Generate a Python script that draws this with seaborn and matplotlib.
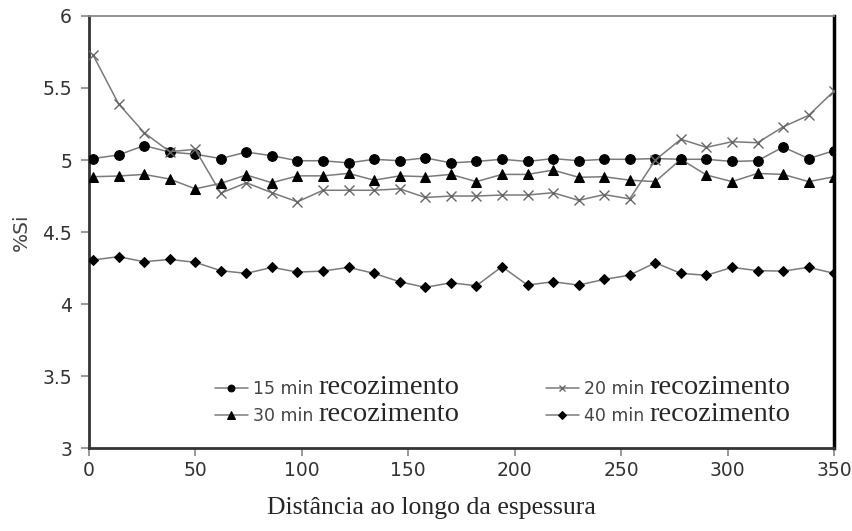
import pandas as pd
import matplotlib
matplotlib.use("Agg")
import matplotlib.pyplot as plt
import seaborn as sns

# Distance positions (measurement points)
distancia = [2, 14, 26, 38, 50, 62, 74, 86, 98, 110, 122, 134, 146, 158, 170,
             182, 194, 206, 218, 230, 242, 254, 266, 278, 290, 302, 314, 326, 338, 350]

# %Si for each annealing time
si_15 = [5.01, 5.035, 5.10, 5.055, 5.04, 5.01, 5.055, 5.03, 4.995, 4.995,
         4.98, 5.005, 4.995, 5.015, 4.98, 4.99, 5.005, 4.99, 5.01, 4.995,
         5.005, 5.005, 5.01, 5.005, 5.005, 4.99, 4.995, 5.09, 5.01, 5.065]
si_20 = [5.73, 5.39, 5.19, 5.058, 5.074, 4.77, 4.842, 4.773, 4.71, 4.79,
         4.79, 4.79, 4.80, 4.74, 4.75, 4.75, 4.757, 4.757, 4.773, 4.72,
         4.76, 4.73, 5.0, 5.144, 5.088, 5.127, 5.12, 5.23, 5.31, 5.48]
si_30 = [4.884, 4.889, 4.90, 4.868, 4.80, 4.838, 4.896, 4.842, 4.89, 4.89,
         4.907, 4.86, 4.89, 4.884, 4.90, 4.85, 4.90, 4.90, 4.93, 4.88,
         4.884, 4.86, 4.85, 5.005, 4.896, 4.85, 4.907, 4.90, 4.85, 4.884]
si_40 = [4.306, 4.329, 4.294, 4.31, 4.29, 4.232, 4.213, 4.255, 4.222, 4.229,
         4.255, 4.213, 4.155, 4.116, 4.148, 4.127, 4.26, 4.132, 4.155, 4.132,
         4.171, 4.201, 4.287, 4.213, 4.20, 4.255, 4.232, 4.229, 4.255, 4.213]

labels = ["15 min", "20 min", "30 min", "40 min"]
x_ticks = [0, 50, 100, 150, 200, 250, 300, 350]
y_ticks = [3, 3.5, 4, 4.5, 5, 5.5, 6]
y_tick_labels = ["3", "3.5", "4", "4.5", "5", "5.5", "6"]

sns.set_style("ticks")
plt.rcParams["font.family"] = ["DejaVu Sans"]
serif = ["Liberation Serif", "DejaVu Serif"]

fig = plt.figure(figsize=(8.53, 5.31), dpi=100)
ax = fig.add_axes([0.104, 0.156, 0.874, 0.814])

line_gray = "#7a7a7a"
styles = {
    "15 min": dict(marker="o", markersize=7, markerfacecolor="black", markeredgecolor="black"),
    "20 min": dict(marker="x", markersize=7, markeredgecolor="#666666", markeredgewidth=1.0),
    "30 min": dict(marker="^", markersize=7.5, markerfacecolor="black", markeredgecolor="black"),
    "40 min": dict(marker="D", markersize=5.5, markerfacecolor="black", markeredgecolor="black"),
}
series = {"15 min": si_15, "20 min": si_20, "30 min": si_30, "40 min": si_40}

for name in labels:
    df = pd.DataFrame({"x": distancia, "y": series[name]})
    sns.lineplot(data=df, x="x", y="y", ax=ax, color=line_gray, linewidth=1.1,
                 label=name, zorder=3, **styles[name])

ax.set_xlim(0, 350)
ax.set_ylim(3, 6)
ax.set_xticks(x_ticks)
ax.set_yticks(y_ticks)
ax.set_yticklabels(y_tick_labels)
ax.tick_params(axis="both", labelsize=13.5, labelcolor="#333333", color="#888888",
               length=6, width=1.2, direction="out")
ax.tick_params(axis="x", pad=3.5)
ax.tick_params(axis="y", pad=6)

for side in ["left", "bottom"]:
    ax.spines[side].set_color("#333333")
    ax.spines[side].set_linewidth(2)
ax.spines["top"].set_color("#8a8a8a")
ax.spines["top"].set_linewidth(1.3)
ax.spines["right"].set_color("black")
ax.spines["right"].set_linewidth(2.5)

ax.set_ylabel("%Si", fontsize=14.5, color="#444444")
ax.yaxis.set_label_coords(-0.077, 0.5)
ax.set_xlabel("Distância ao longo da espessura", fontsize=18.5, family=serif)
ax.xaxis.label.set_va("center")
ax.xaxis.set_label_coords(0.46, -0.139)

# legend: rows 15/20 and 30/40
h, l = ax.get_legend_handles_labels()
order = [0, 2, 1, 3]
leg = ax.legend([h[i] for i in order], [l[i] for i in order], ncol=2, frameon=False,
                loc="upper left", bbox_to_anchor=(0.169, 0.158), borderaxespad=0, borderpad=0,
                fontsize=12.5, handlelength=1.9, handletextpad=0.3, columnspacing=13.4,
                labelspacing=0.55, markerscale=0.7)
for t in leg.get_texts():
    t.set_color("#444444")

# "recozimento" in serif right after each legend label
fig.canvas.draw()
for t in leg.get_texts():
    bb = t.get_window_extent()
    x0, y0 = fig.transFigure.inverted().transform((bb.x1 + 5, bb.y0 + 4))
    fig.text(x0, y0, "recozimento", fontsize=20.5, family=serif, ha="left", va="baseline")

fig.savefig("out.png", dpi=100)
